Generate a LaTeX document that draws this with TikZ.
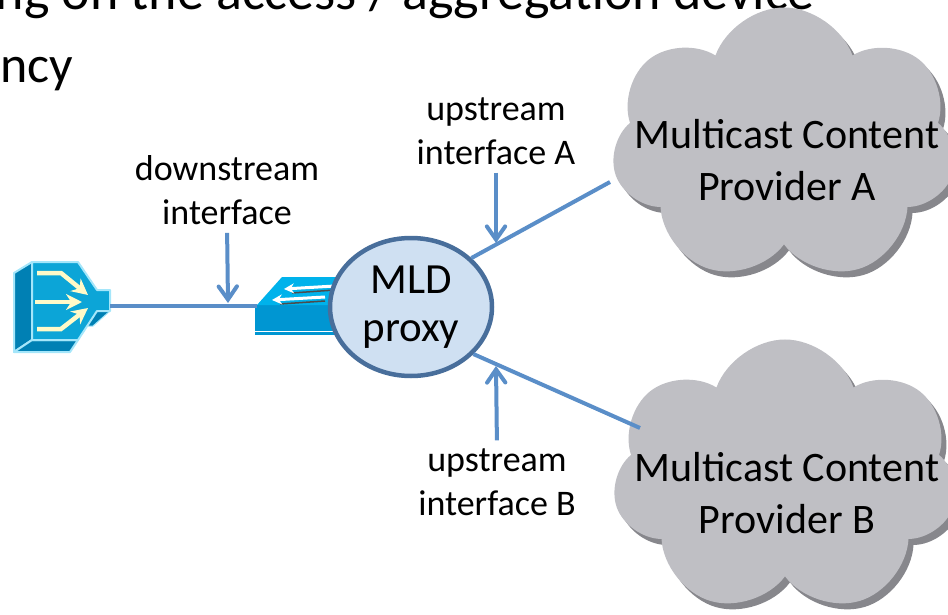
\documentclass[tikz,border=0pt]{standalone}
\usepackage{fontspec}
\setmainfont{Carlito}
\usetikzlibrary{positioning,calc,arrows.meta,shapes.symbols,shapes.geometric,shadows}
\definecolor{linkblue}{RGB}{90,142,200}
\definecolor{proxyfill}{RGB}{207,224,242}
\definecolor{proxyedge}{RGB}{72,110,155}
\definecolor{cloudgray}{RGB}{191,191,196}
\definecolor{cloudshade}{RGB}{135,135,140}
\definecolor{devblue}{RGB}{12,165,215}
\definecolor{devdark}{RGB}{0,128,180}
\definecolor{devedge}{RGB}{165,230,250}
\definecolor{beam}{RGB}{255,250,200}
\definecolor{swtop}{RGB}{0,178,235}
\definecolor{swfront}{RGB}{0,150,210}

\tikzset{
    link/.style={linkblue, line width=4pt},
    pointer/.style={linkblue, line width=4pt, shorten <=8pt, -{Straight Barb[angle=70:16pt, line cap=round]}},
    iface/.style={align=center, inner sep=0pt, font=\fontsize{36}{44}\selectfont},
    proxybox/.style={ellipse, minimum width=162pt, minimum height=138pt, fill=proxyfill, draw=proxyedge, line width=4.5pt, align=center, inner sep=0pt, font=\fontsize{43}{48}\selectfont},
    cloudbox/.style={cloud, cloud puffs=7, cloud puff arc=140, aspect=1.3, minimum width=345pt, minimum height=275pt, fill=cloudgray, inner sep=0pt,
        drop shadow={shadow xshift=5pt, shadow yshift=-6pt, opacity=1, fill=cloudshade}},
    cloudtext/.style={align=center, inner sep=0pt, font=\fontsize{42}{52}\selectfont},
    beamline/.style={beam, line width=4.5pt, -{Stealth[length=16pt,width=16pt]}},
    swarrow/.style={white, line width=3pt, -{Stealth[length=10pt,width=10pt]}}
}

\begin{document}
\begin{tikzpicture}[x=1pt,y=-1pt]
    \useasboundingbox (0,0) rectangle (948,615);
    \clip (0,0) rectangle (948,615);

    % Heading (cut off)
    \node[anchor=base east, inner sep=0pt, font=\fontsize{54}{60}\selectfont] (head) at (815,10) {ing on the access / aggregation device};
    \node[anchor=base west, inner sep=0pt, font=\fontsize{52}{60}\selectfont] (headtail) at (0,83) {ncy};

    % Host
    \filldraw[fill=devdark, draw=devedge, line width=2pt, line join=round] (14,273) -- (32,262) -- (32,340) -- (14,352) -- cycle;
    \filldraw[fill=devdark, draw=devedge, line width=2pt, line join=round] (14,352) -- (32,340) -- (78,340) -- (70,352) -- cycle;
    \filldraw[fill=devdark, draw=devedge, line width=1pt, line join=round] (97,311) -- (110,311) -- (93,326) -- (85,326) -- cycle;
    \filldraw[fill=devblue, draw=devedge, line width=2pt, line join=round] (32,262) -- (78,262) -- (97,290) -- (110,290) -- (110,311) -- (97,311) -- (78,340) -- (32,340) -- cycle;
    \draw[beamline] (37,273) -- (61,273) -- (88,295);
    \draw[beamline] (35,302) -- (82,302);
    \draw[beamline] (37,329) -- (61,329) -- (88,308);
    \coordinate (host) at (110,306);

    % Switch
    \fill[swfront] (255,305) rectangle (400,335);
    \draw[white, line width=1pt] (255,331) -- (400,331);
    \fill[swtop] (257,305) -- (282,277) -- (400,277) -- (400,305) -- cycle;
    \draw[black!70, line width=1.5pt] (292,293) -- (335,290);
    \draw[black!70, line width=1.5pt] (280,304) -- (325,301);
    \draw[swarrow] (335,286) -- (284,289);
    \draw[swarrow] (325,297) -- (272,300);
    \coordinate (swport) at (257,306);

    \draw[link] (host) -- (swport);

    % Proxy
    \node[proxybox] (proxy) at (411,307) {MLD\\proxy};

    % Clouds
    \node[cloudbox] (cloudA) at (784,145) {};
    \node[cloudtext] (provA) at (787,160) {Multicast Content\\Provider A};
    \node[cloudbox] (cloudB) at (785,477) {};
    \node[cloudtext] (provB) at (787,493) {Multicast Content\\Provider B};

    % Links
    \coordinate (edgeA) at (610,182);
    \coordinate (edgeB) at (640,428);
    \draw[link] (proxy.39) -- (edgeA);
    \draw[link] (proxy.-37) -- (edgeB);

    % Interface labels
    \node[iface] (down) at (227,190) {downstream\\interface};
    \node[iface] (upA) at (496,131) {upstream\\interface A};
    \node[iface] (upB) at (497,482) {upstream\\interface B};
    \coordinate (downtip) at (228,303);
    \coordinate (upAtip) at (496,243);
    \coordinate (upBtip) at (496,366);
    \draw[pointer] (down.south) -- (downtip);
    \draw[pointer] (upA.south) -- (upAtip);
    \draw[pointer] (upB.north) -- (upBtip);
\end{tikzpicture}
\end{document}
